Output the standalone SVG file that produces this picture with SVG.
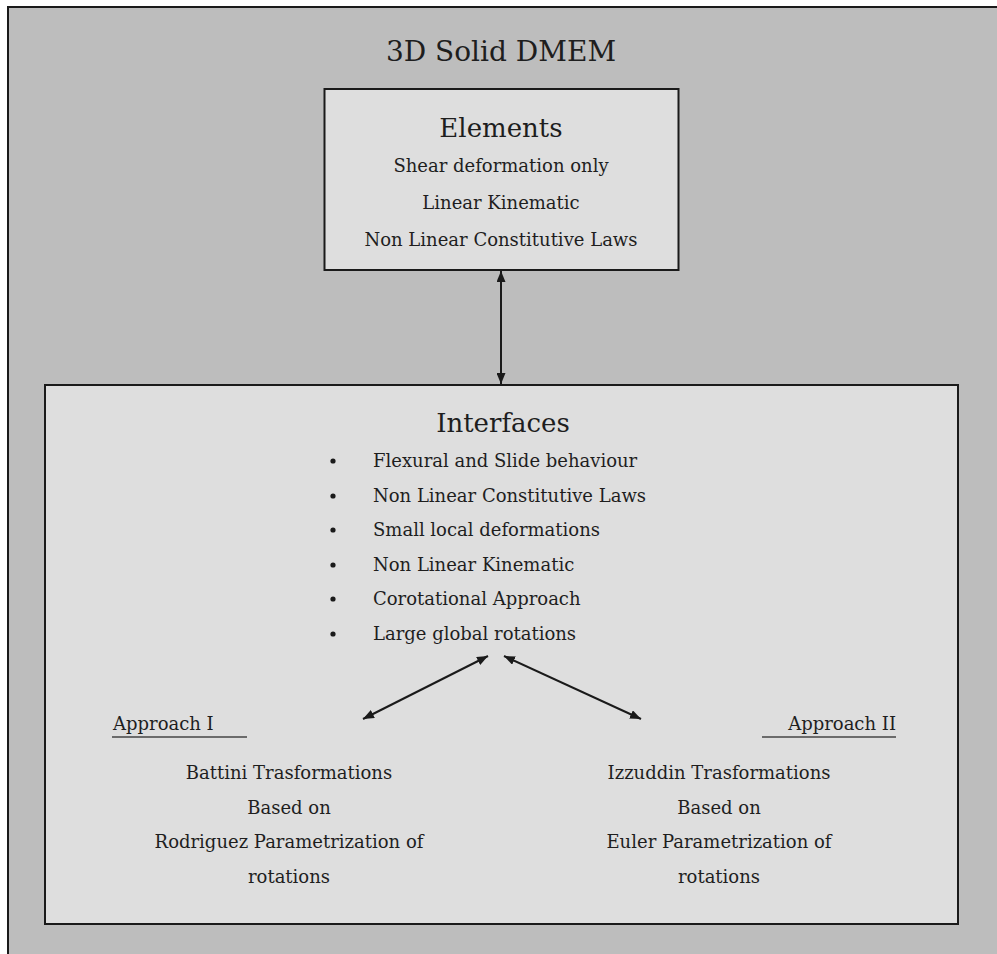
<svg xmlns="http://www.w3.org/2000/svg" width="997" height="954" viewBox="0 0 997 954">
<style>
text{font-family:"DejaVu Serif","Noto Serif",serif;fill:#1e1e1e;}
.t{font-size:18px;text-anchor:middle;}
.l{font-size:18px;}
.h{font-size:26px;text-anchor:middle;}
.ttl{font-size:28px;text-anchor:middle;}
.box{fill:#dedede;stroke:#1a1a1a;stroke-width:2;}
.con{stroke:#1a1a1a;stroke-width:2;fill:none;marker-start:url(#ah);marker-end:url(#ah);}
.ul{stroke:#444;stroke-width:1.5;}
</style>
<defs>
<marker id="ah" viewBox="0 0 11 9" refX="11" refY="4.5" markerWidth="11" markerHeight="9" markerUnits="userSpaceOnUse" orient="auto-start-reverse">
<path d="M0,0 L11,4.5 L0,9 Z" fill="#1a1a1a"/>
</marker>
</defs>
<g id="frame">
<rect x="8" y="7" width="1000" height="960" fill="#bdbdbd" stroke="#1a1a1a" stroke-width="2"/>
<text class="ttl" x="501" y="61">3D Solid DMEM</text>
</g>
<g id="elements">
<rect class="box" x="324.5" y="89" width="354" height="181"/>
<text class="h" x="501" y="137">Elements</text>
<text class="t" x="501" y="172">Shear deformation only</text>
<text class="t" x="501" y="209">Linear Kinematic</text>
<text class="t" x="501" y="246">Non Linear Constitutive Laws</text>
</g>
<g id="interfaces">
<rect class="box" x="45" y="385" width="913" height="539"/>
<text class="h" x="503" y="432">Interfaces</text>
<g fill="#1a1a1a">
<circle cx="333" cy="461" r="2.6"/>
<circle cx="333" cy="496" r="2.6"/>
<circle cx="333" cy="530" r="2.6"/>
<circle cx="333" cy="565" r="2.6"/>
<circle cx="333" cy="599" r="2.6"/>
<circle cx="333" cy="634" r="2.6"/>
</g>
<text class="l" x="373" y="467">Flexural and Slide behaviour</text>
<text class="l" x="373" y="502">Non Linear Constitutive Laws</text>
<text class="l" x="373" y="536">Small local deformations</text>
<text class="l" x="373" y="571">Non Linear Kinematic</text>
<text class="l" x="373" y="605">Corotational Approach</text>
<text class="l" x="373" y="640">Large global rotations</text>
</g>
<g id="approach1">
<text class="l" x="113" y="730">Approach I</text>
<line class="ul" x1="112" y1="737" x2="247" y2="737"/>
<text class="t" x="289" y="779">Battini Trasformations</text>
<text class="t" x="289" y="814">Based on</text>
<text class="t" x="289" y="848">Rodriguez Parametrization of</text>
<text class="t" x="289" y="883">rotations</text>
</g>
<g id="approach2">
<text class="l" x="896" y="730" text-anchor="end">Approach II</text>
<line class="ul" x1="762" y1="737" x2="896" y2="737"/>
<text class="t" x="719" y="779">Izzuddin Trasformations</text>
<text class="t" x="719" y="814">Based on</text>
<text class="t" x="719" y="848">Euler Parametrization of</text>
<text class="t" x="719" y="883">rotations</text>
</g>
<g id="connectors">
<line class="con" x1="501" y1="271" x2="501" y2="384"/>
<line class="con" x1="488" y1="656" x2="363" y2="719"/>
<line class="con" x1="504" y1="656" x2="641" y2="719"/>
</g>
</svg>
